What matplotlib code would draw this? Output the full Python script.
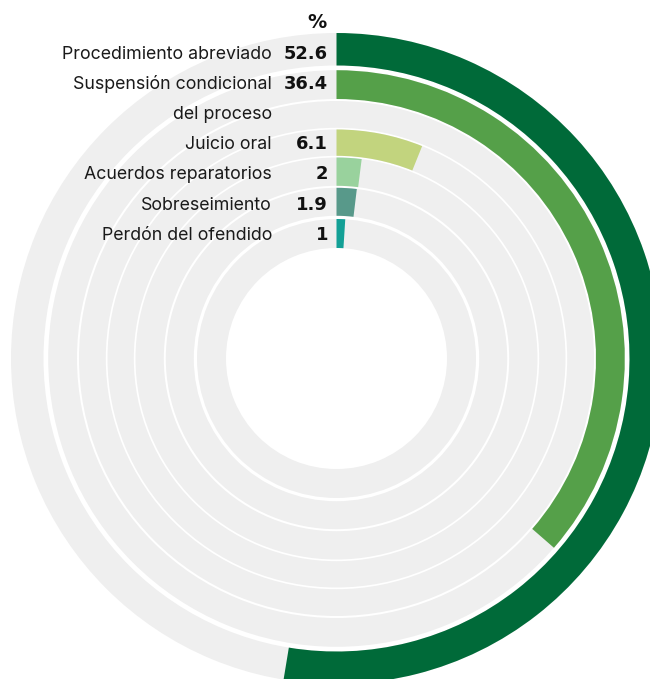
import numpy as np
import matplotlib
matplotlib.use("Agg")
import matplotlib.pyplot as plt

# ---- data ----
categories = [["Procedimiento abreviado"],
              ["Suspensión condicional", "del proceso"],
              ["Juicio oral"],
              ["Acuerdos reparatorios"],
              ["Sobreseimiento"],
              ["Perdón del ofendido"]]
values = [52.6, 36.4, 6.1, 2, 1.9, 1]
value_labels = ["52.6", "36.4", "6.1", "2", "1.9", "1"]
unit_label = "%"

# ---- style ----
colors = ["#006a39", "#55a049", "#c2d47e", "#99d29d", "#58998a", "#13a096"]
track_color = "#efefef"
W, H = 650, 679
cx, cy = 336.5, 358.5            # centre of rings (pixels from top-left)
rmax = 332.0
# track geometry (radii in pixels)
tracks_outer = [325.5, 288.3, 257.5, 229.0, 201.0, 170.7, 139.5]
tracks_inner = [293.0, 259.5, 230.7, 202.7, 172.7, 142.7, 110.5]

fig = plt.figure(figsize=(W / 100, H / 100), dpi=100)
fig.patch.set_facecolor("white")
ax = fig.add_axes([(cx - rmax) / W, ((H - cy) - rmax) / H, 2 * rmax / W, 2 * rmax / H],
                  projection="polar")
ax.set_theta_zero_location("N")
ax.set_theta_direction(-1)
ax.set_ylim(0, rmax)
ax.axis("off")

# background tracks
for ro, ri in zip(tracks_outer, tracks_inner):
    ax.bar(0, ro - ri, width=2 * np.pi, bottom=ri, align="edge",
           color=track_color, linewidth=0)

# data bars
line = 0
lab_font = dict(family=["Inter", "DejaVu Sans"], fontsize=12.8, color="#1a1a1a")
val_font = dict(family=["DejaVu Sans"], fontsize=12.9, fontweight="bold", color="#111111")
base0, step = 58.7, 30.2
for cat, v, vl, c in zip(categories, values, value_labels, colors):
    ti = line
    ax.bar(0, tracks_outer[ti] - tracks_inner[ti], width=v / 100 * 2 * np.pi,
           bottom=tracks_inner[ti], align="edge", color=c, linewidth=0)
    y = base0 + step * line
    fig.text(328 / W, 1 - y / H, vl, ha="right", va="baseline", **val_font)
    for k, txt in enumerate(cat):
        yk = base0 + step * (line + k)
        fig.text(272 / W, 1 - yk / H, txt, ha="right", va="baseline", **lab_font)
    line += len(cat)

fig.text(327 / W, 1 - 28.3 / H, unit_label, ha="right", va="baseline",
         family=["DejaVu Sans"], fontsize=13.8, fontweight="bold", color="#111111")

fig.savefig("out.png", dpi=100, facecolor="white")
